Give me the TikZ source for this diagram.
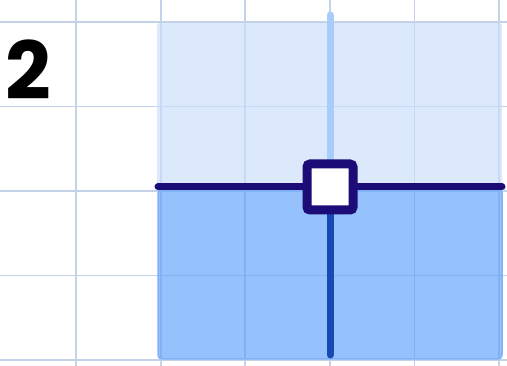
\documentclass[tikz,border=0pt]{standalone}
\usepackage{fontspec}
\usepackage{tikz}
\usetikzlibrary{positioning}
\newfontfamily\digitfont{Poppins}
\definecolor{C_GRID} {HTML}{C3D2E8}
\definecolor{C_LIGHT}{HTML}{C9DDFC}
\definecolor{C_DARK} {HTML}{5CA0FB}
\definecolor{C_EDGE} {HTML}{7FB2F6}
\definecolor{C_NAVY} {HTML}{1C0C78}
\definecolor{C_UP}   {HTML}{A9CDFB}
\definecolor{C_DOWN} {HTML}{1848B4}

\begin{document}
\begin{tikzpicture}[
  x=1pt, y=-1pt,
  gridline/.style={draw=C_GRID, line width=1.8pt},
  upzone/.style={fill=C_LIGHT, fill opacity=0.65, rounded corners=3pt},
  downzone/.style={fill=C_DARK, fill opacity=0.65, draw=C_EDGE,
                   line width=1.5pt, rounded corners=4pt},
  bar/.style={line width=7pt, line cap=round},
  knob/.style={draw=C_NAVY, fill=white, line width=9pt, minimum size=46pt,
               rounded corners=3pt, inner sep=0pt},
]
\useasboundingbox (0,0) rectangle (507,366);

%% grid
\foreach \gx in {76,160.6,245.2,329.8,414.4,499} {
  \draw[gridline] (\gx,0) -- (\gx,366);
}
\foreach \gy in {22,106.5,191,275.5,360} {
  \draw[gridline] (0,\gy) -- (507,\gy);
}

%% shaded zones
\fill[upzone] (157,23) rectangle (502,187);
\draw[downzone] (158,189) rectangle (502,359);

%% end points of the bars
\coordinate (top)    at (330,15);
\coordinate (bottom) at (330,355);
\coordinate (left)   at (158,187);
\coordinate (right)  at (502,187);
\coordinate (mid)    at (330,187);

\draw[bar, C_UP]   (top) -- (mid);
\draw[bar, C_DOWN] (mid) -- (bottom);
\draw[bar, C_NAVY] (left) -- (right);

%% handle
\node[knob] (handle) at (mid) {};

%% step number
\node[font=\digitfont\bfseries\fontsize{80}{80}\selectfont, inner sep=0pt]
  (num) at (28,70) {2};

\end{tikzpicture}
\end{document}
